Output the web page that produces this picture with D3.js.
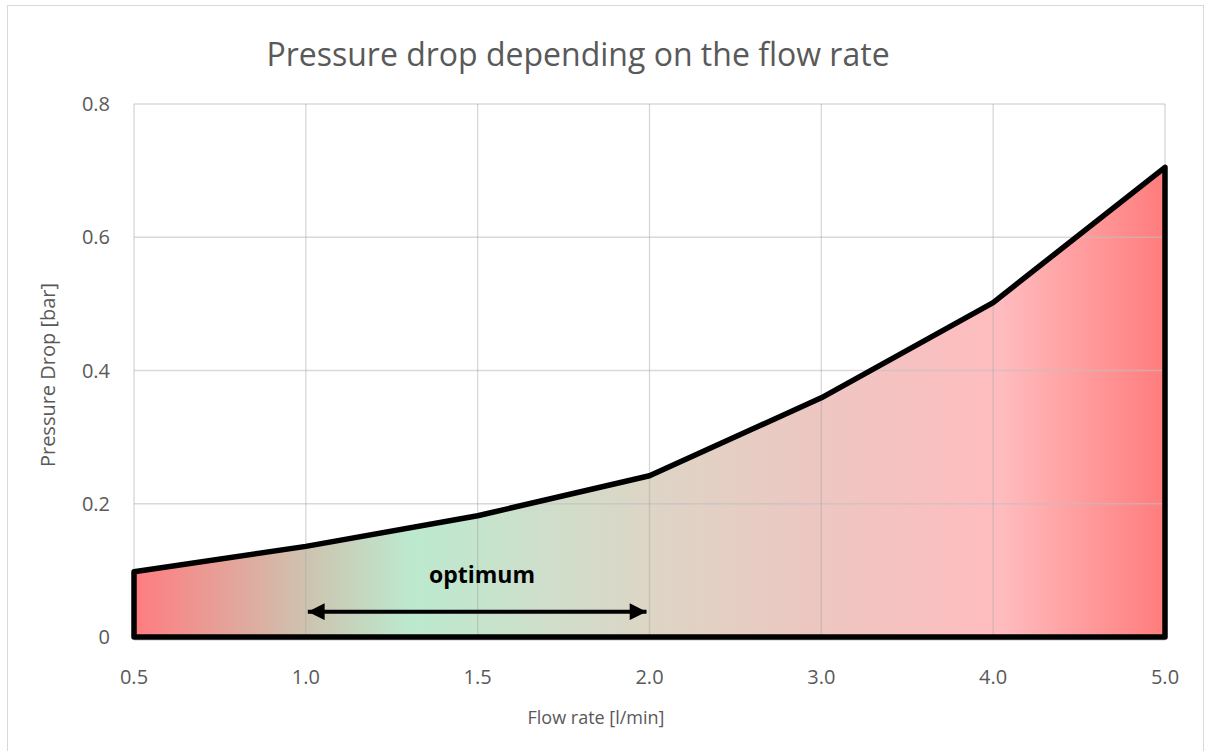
<!DOCTYPE html>
<html>
<head>
<meta charset="utf-8">
<script src="https://cdn.jsdelivr.net/npm/d3@7"></script>
<style>
  body { margin: 0; background: #fff; }
  text { font-family: "Open Sans", sans-serif; fill: #595959; }
</style>
</head>
<body>
<div class="chart"></div>
<script>
// Chart data
var flowRates = ["0.5", "1.0", "1.5", "2.0", "3.0", "4.0", "5.0"];
var pressureDrop = [0.098, 0.136, 0.182, 0.242, 0.359, 0.502, 0.705];
var yTicks = [0, 0.2, 0.4, 0.6, 0.8];
var optimumRange = ["1.0", "2.0"];

var svgWidth = 1205;
var svgHeight = 751;

var margin = { top: 104, right: 40, bottom: 114, left: 134 };
var width = svgWidth - margin.left - margin.right;
var height = svgHeight - margin.top - margin.bottom;

var svg = d3.select(".chart")
  .append("svg")
  .attr("width", svgWidth)
  .attr("height", svgHeight);

// outer frame
svg.append("rect")
  .attr("x", 7.5).attr("y", 5.5)
  .attr("width", 1196).attr("height", 760)
  .attr("fill", "none")
  .attr("stroke", "#d9d9d9");

var chartGroup = svg.append("g")
  .attr("transform", `translate(${margin.left}, ${margin.top})`);

var xScale = d3.scalePoint().domain(flowRates).range([0, width]);
var yScale = d3.scaleLinear().domain([0, 0.8]).range([height, 0]);

// gradient across the area
var defs = svg.append("defs");
var grad = defs.append("linearGradient")
  .attr("id", "fillGrad")
  .attr("gradientUnits", "userSpaceOnUse")
  .attr("x1", 0).attr("x2", width).attr("y1", 0).attr("y2", 0);
[
  [0, "#ff7c80"],
  [0.17, "#cdc4b0"],
  [0.27, "#bceacf"],
  [0.5, "#ddd5c6"],
  [0.67, "#eec6c2"],
  [0.84, "#ffbcbf"],
  [1, "#ff7c7c"]
].forEach(function (s) {
  grad.append("stop").attr("offset", s[0]).attr("stop-color", s[1]);
});

// area
var data = flowRates.map(function (f, i) { return { x: f, y: pressureDrop[i] }; });
var area = d3.area()
  .x(d => xScale(d.x))
  .y0(yScale(0))
  .y1(d => yScale(d.y));

chartGroup.append("path")
  .datum(data)
  .attr("d", area)
  .attr("fill", "url(#fillGrad)");

// gridlines (drawn over the fill, like the original)
chartGroup.selectAll(".hgrid")
  .data(yTicks.slice(1))
  .enter().append("line")
  .attr("x1", 0).attr("x2", width)
  .attr("y1", d => yScale(d)).attr("y2", d => yScale(d))
  .attr("stroke", "#bfbfbf")
  .attr("stroke-opacity", 0.6)
  .attr("stroke-width", 1.3);

chartGroup.selectAll(".vgrid")
  .data(flowRates)
  .enter().append("line")
  .attr("x1", d => xScale(d)).attr("x2", d => xScale(d))
  .attr("y1", 0).attr("y2", height)
  .attr("stroke", "#a6a6a6")
  .attr("stroke-opacity", 0.45)
  .attr("stroke-width", 1.3);

// x axis baseline
chartGroup.append("line")
  .attr("x1", 0).attr("x2", width)
  .attr("y1", height + 3).attr("y2", height + 3)
  .attr("stroke", "#d9d9d9").attr("stroke-width", 1.5);

// outline
chartGroup.append("path")
  .datum(data)
  .attr("d", area)
  .attr("fill", "none")
  .attr("stroke", "#000")
  .attr("stroke-width", 5.5)
  .attr("stroke-linejoin", "round");

// axes labels
chartGroup.selectAll(".ytick")
  .data(yTicks)
  .enter().append("text")
  .attr("x", -24)
  .attr("y", d => yScale(d))
  .attr("dy", "0.36em")
  .attr("text-anchor", "end")
  .style("font-size", "20px")
  .text(d => d === 0 ? "0" : d3.format(".1f")(d));

chartGroup.selectAll(".xtick")
  .data(flowRates)
  .enter().append("text")
  .attr("x", d => xScale(d))
  .attr("y", height + 47)
  .attr("text-anchor", "middle")
  .style("font-size", "20px")
  .text(d => d);

// optimum arrow
defs.append("marker")
  .attr("id", "arrowHead")
  .attr("viewBox", "0 0 10 10")
  .attr("refX", 10).attr("refY", 5)
  .attr("markerWidth", 4.6).attr("markerHeight", 4.2)
  .attr("orient", "auto-start-reverse")
  .append("path")
  .attr("d", "M0,0 L10,5 L0,10 Z")
  .attr("fill", "#000");

var arrowY = yScale(0.038);
chartGroup.append("line")
  .attr("x1", xScale(optimumRange[0]) + 2)
  .attr("x2", xScale(optimumRange[1]) - 3)
  .attr("y1", arrowY).attr("y2", arrowY)
  .attr("stroke", "#000")
  .attr("stroke-width", 4)
  .attr("marker-start", "url(#arrowHead)")
  .attr("marker-end", "url(#arrowHead)");

chartGroup.append("text")
  .attr("x", 482 - margin.left)
  .attr("y", yScale(0.081))
  .attr("text-anchor", "middle")
  .style("font-size", "23px")
  .style("font-weight", "bold")
  .style("fill", "#000")
  .text("optimum");

// titles
svg.append("text")
  .attr("x", 578)
  .attr("y", 55)
  .attr("dy", "0.35em")
  .attr("text-anchor", "middle")
  .style("font-size", "32px")
  .text("Pressure drop depending on the flow rate");

svg.append("text")
  .attr("x", 596)
  .attr("y", 718)
  .attr("dy", "0.35em")
  .attr("text-anchor", "middle")
  .style("font-size", "18px")
  .text("Flow rate [l/min]");

svg.append("text")
  .attr("transform", "translate(48, 375) rotate(-90)")
  .attr("dy", "0.35em")
  .attr("text-anchor", "middle")
  .style("font-size", "20px")
  .text("Pressure Drop [bar]");
</script>
</body>
</html>
